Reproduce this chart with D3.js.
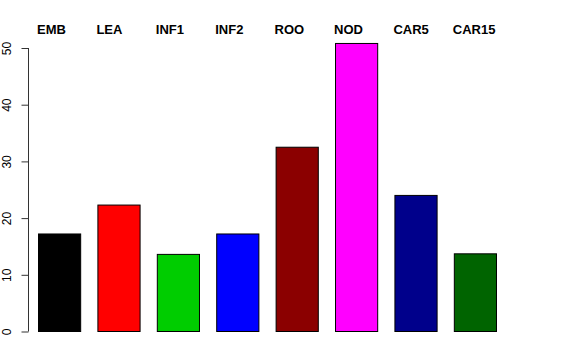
<!DOCTYPE html>
<html>
<head>
<meta charset="utf-8">
<script src="https://cdn.jsdelivr.net/npm/d3@7"></script>
<style>
  body { margin: 0; background: #fff; }
  svg { display: block; font-family: "Liberation Sans", Arial, sans-serif; }
</style>
</head>
<body>
<svg id="chart"></svg>
<script>
// data
const categories = ['EMB', 'LEA', 'INF1', 'INF2', 'ROO', 'NOD', 'CAR5', 'CAR15'];
const values = [17.2, 22.3, 13.6, 17.2, 32.5, 50.8, 24.0, 13.7];
const barColors = ['#000000', '#ff0000', '#00cd00', '#0000ff', '#8b0000', '#ff00ff', '#00008b', '#006400'];
const yTicks = [0, 10, 20, 30, 40, 50];

const width = 576, height = 360;

const svg = d3.select('#chart')
    .attr('width', width)
    .attr('height', height);

const xscale = d3.scaleBand()
    .domain(categories)
    .range([38, 496])
    .paddingInner(0.29)
    .paddingOuter(0);

const yscale = d3.scaleLinear()
    .domain([0, 50])
    .range([331, 47.5]);

// bars
svg.append('g')
    .selectAll('rect')
    .data(categories)
    .join('rect')
    .attr('x', d => xscale(d) + 0.5)
    .attr('y', (d, i) => yscale(values[i]) + 0.5)
    .attr('width', xscale.bandwidth())
    .attr('height', (d, i) => yscale(0) - yscale(values[i]))
    .attr('fill', (d, i) => barColors[i])
    .attr('stroke', '#000')
    .attr('stroke-width', 1);

// y axis, R style
const yaxis = d3.axisLeft(yscale)
    .tickValues(yTicks)
    .tickSize(7)
    .tickSizeOuter(0)
    .tickPadding(0);

const yaxis_group = svg.append('g')
    .attr('transform', 'translate(28.5, 0.5)')
    .call(yaxis);

yaxis_group.select('.domain')
    .attr('d', `M0,${yscale(0)}V${yscale(50)}`)
    .attr('stroke', '#333');
yaxis_group.selectAll('.tick line').attr('stroke', '#333');

yaxis_group.selectAll('.tick text')
    .attr('font-size', 12)
    .attr('font-family', '"Liberation Sans", Arial, sans-serif')
    .attr('fill', '#000')
    .attr('x', null)
    .attr('dy', null)
    .attr('text-anchor', 'middle')
    .attr('transform', 'translate(-18, 0) rotate(-90)');

// category labels on top
svg.append('g')
    .selectAll('text')
    .data(categories)
    .join('text')
    .attr('x', d => xscale(d) - 1)
    .attr('y', 33.5)
    .attr('font-size', 13)
    .attr('font-weight', 'bold')
    .attr('fill', '#000')
    .text(d => d);
</script>
</body>
</html>
